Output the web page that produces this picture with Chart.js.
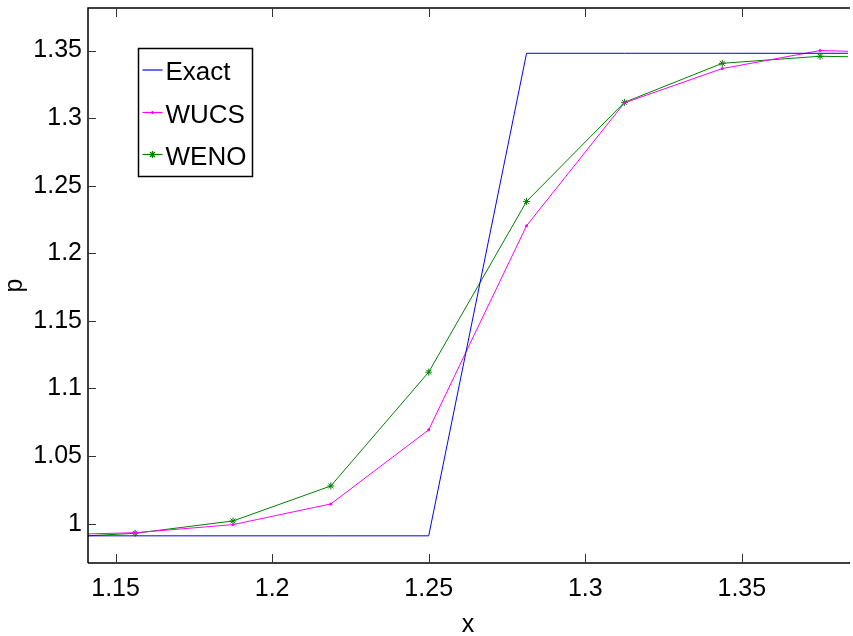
<!DOCTYPE html>
<html>
<head>
<meta charset="utf-8">
<title>p vs x</title>
<script src="https://cdn.jsdelivr.net/npm/chart.js@4.4.1/dist/chart.umd.min.js"></script>
<style>
  html, body { margin: 0; padding: 0; background: #fff; overflow: hidden; }
  #wrap { width: 853px; height: 636px; }
</style>
</head>
<body>
<div id="wrap"><canvas id="plot" width="853" height="636"></canvas></div>
<script>
// grid points (dx = 1/32) and solution values
const xValues = [1.125, 1.15625, 1.1875, 1.21875, 1.25, 1.28125, 1.3125, 1.34375, 1.375, 1.40625];
const exactP = [0.991, 0.991, 0.991, 0.991, 0.991, 1.348, 1.348, 1.348, 1.348, 1.348];
const wucsP = [0.9915, 0.9933, 0.9993, 1.0146, 1.0694, 1.2204, 1.3113, 1.3367, 1.3500, 1.3482];
const wenoP = [0.9890, 0.9929, 1.0020, 1.0279, 1.1121, 1.2384, 1.3117, 1.3406, 1.3458, 1.3445];

// axis ranges and ticks
const xRange = [1.1412, 1.3839];
const yRange = [0.9709, 1.3815];
const xTicks = [1.15, 1.2, 1.25, 1.3, 1.35];
const yTicks = [1, 1.05, 1.1, 1.15, 1.2, 1.25, 1.3, 1.35];

const FONT = '"Liberation Sans", Arial, sans-serif';

function toPoints(ys) {
  return xValues.map((x, i) => ({ x: x, y: ys[i] }));
}

// box frame with inward tick marks, like a matlab axes
const frameTicks = {
  id: 'frameTicks',
  afterDatasetsDraw(chart) {
    const { ctx, chartArea: a, scales } = chart;
    ctx.save();
    ctx.strokeStyle = '#000';
    ctx.lineWidth = 1.5;
    ctx.beginPath();
    ctx.moveTo(a.left, a.bottom);
    ctx.lineTo(a.left, a.top);
    ctx.lineTo(a.right + 2, a.top);
    ctx.moveTo(a.left, a.bottom);
    ctx.lineTo(a.right + 2, a.bottom);
    ctx.stroke();

    ctx.lineWidth = 1;
    ctx.strokeStyle = '#333';
    ctx.beginPath();
    scales.x.ticks.forEach(t => {
      const px = Math.round(scales.x.getPixelForValue(t.value)) + 0.5;
      ctx.moveTo(px, a.bottom);
      ctx.lineTo(px, a.bottom - 9);
      ctx.moveTo(px, a.top);
      ctx.lineTo(px, a.top + 9);
    });
    scales.y.ticks.forEach(t => {
      const py = Math.round(scales.y.getPixelForValue(t.value)) + 0.5;
      ctx.moveTo(a.left, py);
      ctx.lineTo(a.left + 8, py);
    });
    ctx.stroke();
    ctx.restore();
  }
};

// boxed legend inside the axes
const boxLegend = {
  id: 'boxLegend',
  afterDraw(chart) {
    const { ctx, chartArea: a } = chart;
    const bx = a.left + 50.5, by = a.top + 40.5, bw = 114, bh = 128;
    ctx.save();
    ctx.fillStyle = '#fff';
    ctx.fillRect(bx, by, bw, bh);
    ctx.strokeStyle = '#000';
    ctx.lineWidth = 1.5;
    ctx.strokeRect(bx, by, bw, bh);

    ctx.font = '26px ' + FONT;
    ctx.textBaseline = 'middle';
    ctx.textAlign = 'left';
    const rows = [a.top + 62, a.top + 104.5, a.top + 146.5];
    chart.data.datasets.forEach((ds, i) => {
      const y = rows[i];
      ctx.strokeStyle = ds.borderColor;
      ctx.lineWidth = 1.2;
      ctx.beginPath();
      ctx.moveTo(bx + 4, y);
      ctx.lineTo(bx + 24, y);
      ctx.stroke();
      const cx = bx + 14;
      if (ds.pointStyle === 'circle' && ds.pointRadius > 0) {
        ctx.fillStyle = ds.borderColor;
        ctx.beginPath();
        ctx.arc(cx, y, ds.pointRadius, 0, Math.PI * 2);
        ctx.fill();
      } else if (ds.pointStyle === 'star') {
        const r = ds.pointRadius;
        ctx.beginPath();
        for (let k = 0; k < 4; k++) {
          const ang = k * Math.PI / 4;
          ctx.moveTo(cx - r * Math.cos(ang), y - r * Math.sin(ang));
          ctx.lineTo(cx + r * Math.cos(ang), y + r * Math.sin(ang));
        }
        ctx.stroke();
      }
      ctx.fillStyle = '#000';
      ctx.fillText(ds.label, bx + 27, y + 3);
    });
    ctx.restore();
  }
};

const ctx = document.getElementById('plot').getContext('2d');
new Chart(ctx, {
  type: 'line',
  data: {
    datasets: [
      {
        label: 'Exact',
        data: toPoints(exactP),
        borderColor: '#0000ff',
        borderWidth: 1,
        pointRadius: 0,
        pointStyle: false,
        tension: 0
      },
      {
        label: 'WUCS',
        data: toPoints(wucsP),
        borderColor: '#ff00ff',
        backgroundColor: '#ff00ff',
        borderWidth: 1,
        pointStyle: 'circle',
        pointRadius: 1.5,
        pointBorderWidth: 0,
        tension: 0
      },
      {
        label: 'WENO',
        data: toPoints(wenoP),
        borderColor: '#008000',
        backgroundColor: '#008000',
        borderWidth: 1,
        pointStyle: 'star',
        pointRadius: 3.5,
        pointBorderWidth: 1,
        tension: 0
      }
    ]
  },
  options: {
    responsive: false,
    animation: false,
    devicePixelRatio: 1,
    layout: { padding: { top: 8, right: 0, bottom: 0, left: 0 } },
    plugins: {
      legend: { display: false },
      tooltip: { enabled: false }
    },
    scales: {
      x: {
        type: 'linear',
        min: xRange[0],
        max: xRange[1],
        afterBuildTicks: s => { s.ticks = xTicks.map(v => ({ value: v })); },
        afterFit: s => { s.height = 73; },
        grid: { display: false, drawTicks: false },
        border: { display: false },
        ticks: {
          color: '#000',
          padding: 11,
          maxRotation: 0,
          font: { family: FONT, size: 25 },
          callback: v => String(v)
        },
        title: {
          display: true,
          text: 'x',
          color: '#000',
          font: { family: FONT, size: 25 },
          padding: { top: 0, bottom: -4 }
        }
      },
      y: {
        type: 'linear',
        min: yRange[0],
        max: yRange[1],
        afterBuildTicks: s => { s.ticks = yTicks.map(v => ({ value: v })); },
        afterFit: s => { s.width = 88; s.paddingTop = 0; s.paddingBottom = 0; },
        grid: { display: false, drawTicks: false },
        border: { display: false },
        ticks: {
          color: '#000',
          padding: 6,
          font: { family: FONT, size: 25 },
          callback: v => String(v)
        },
        title: {
          display: true,
          text: 'p',
          color: '#000',
          font: { family: FONT, size: 25 },
          padding: { top: 0, bottom: 0 }
        }
      }
    }
  },
  plugins: [frameTicks, boxLegend]
});
</script>
</body>
</html>
